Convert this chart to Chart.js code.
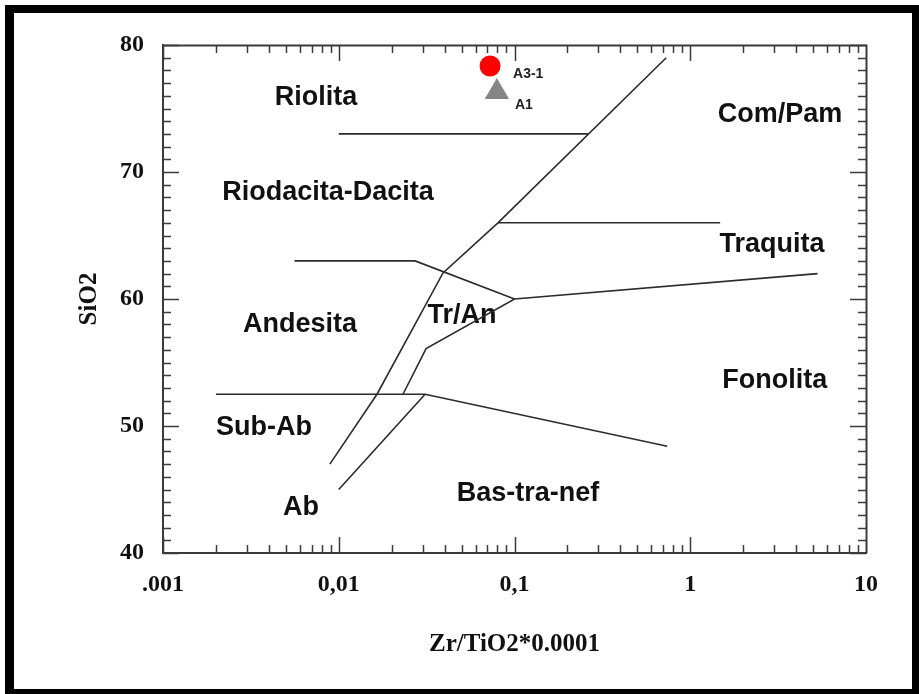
<!DOCTYPE html>
<html><head><meta charset="utf-8">
<script src="https://cdn.jsdelivr.net/npm/chart.js@4/dist/chart.umd.min.js"></script>
<style>
html,body{margin:0;padding:0;background:#fff;}
#wrap{position:relative;width:919px;height:694px;overflow:hidden;}
#frame{position:absolute;left:5px;top:5px;width:914px;height:689px;box-sizing:border-box;border-left:9px solid #000;border-top:8px solid #000;border-right:7px solid #000;border-bottom:5px solid #000;pointer-events:none;}
canvas{position:absolute;left:0;top:0;}
</style></head>
<body><div id="wrap"><canvas id="c" width="919" height="694"></canvas><div id="frame"></div></div>
<script>
// ---- data ----
const sampleNames = ['A3-1', 'A1'];
const sampleZrTi = [0.0726, 0.0794];
const sampleSiO2 = [78.35, 76.3];

const xTickValues = [0.001, 0.01, 0.1, 1, 10];
const xTickLabels = ['.001', '0,01', '0,1', '1', '10'];
const yTickValues = [40, 50, 60, 70, 80];

// field boundaries (Zr/TiO2*0.0001, SiO2)
const lineRiolita   = [{x:0.01,y:73},{x:0.262,y:73}];
const lineDiagonal  = [{x:0.73,y:79},{x:0.0805,y:66},{x:0.0392,y:62.05},{x:0.0165,y:52.5},{x:0.0089,y:47}];
const lineTraquita  = [{x:0.0805,y:66},{x:1.48,y:66}];
const lineAndesita  = [{x:0.0056,y:63},{x:0.0272,y:63},{x:0.1,y:60}];
const lineTrAn      = [{x:0.0232,y:52.5},{x:0.0314,y:56.1},{x:0.1,y:60},{x:5.3,y:62}];
const lineSubAb     = [{x:0.002,y:52.5},{x:0.031,y:52.5},{x:0.74,y:48.4}];
const lineAb        = [{x:0.031,y:52.5},{x:0.01,y:45}];

const regionNames = ['Riolita','Riodacita-Dacita','Com/Pam','Traquita','Andesita','Tr/An','Fonolita','Sub-Ab','Ab','Bas-tra-nef'];
const regionX = [0.00743,0.00869,3.24,2.92,0.00602,0.0502,3.03,0.00376,0.0061,0.1194];
const regionY = [75.9,68.35,74.5,64.3,57.95,58.66,53.54,49.84,43.54,44.72];

// ---- chart ----
const boundaryLines = [lineRiolita,lineDiagonal,lineTraquita,lineAndesita,lineTrAn,lineSubAb,lineAb];
const datasets = boundaryLines.map(pts => ({
  type:'scatter', data:pts, showLine:true, borderColor:'#2b2b2b', borderWidth:1.6,
  pointRadius:0, fill:false, tension:0
}));
datasets.push({
  type:'scatter', label:sampleNames[0], data:[{x:sampleZrTi[0],y:sampleSiO2[0]}],
  pointStyle:'circle', pointRadius:10.5, backgroundColor:'#ff0000', borderColor:'#ff0000', borderWidth:0
});
datasets.push({
  type:'scatter', label:sampleNames[1], data:[{x:sampleZrTi[1],y:sampleSiO2[1]}],
  pointStyle:'triangle', pointRadius:14, backgroundColor:'#858585', borderColor:'#858585', borderWidth:0
});

const labelOffsets = [[23,8],[18,13]];

const decor = {
  id:'decor',
  beforeDatasetsDraw(chart){
    const {ctx, scales:{x,y}} = chart;
    ctx.save();
    ctx.fillStyle = '#111';
    ctx.font = 'bold 27px "Liberation Sans", Arial, sans-serif';
    ctx.textAlign = 'center'; ctx.textBaseline = 'middle';
    regionNames.forEach((n,i)=>{
      ctx.fillText(n, x.getPixelForValue(regionX[i]), y.getPixelForValue(regionY[i]));
    });
    ctx.restore();
  },
  afterDraw(chart){
    const {ctx, chartArea:a, scales:{x,y}} = chart;
    ctx.save();
    ctx.strokeStyle = '#3a3a3a';
    ctx.lineWidth = 2;
    ctx.beginPath();
    ctx.moveTo(a.left, a.top+0.5); ctx.lineTo(a.right+0.5, a.top+0.5); ctx.lineTo(a.right+0.5, a.bottom);
    ctx.stroke();
    ctx.lineWidth = 1.5;
    ctx.beginPath();
    for (let v = y.min; v <= y.max; v++) {
      const py = Math.round(y.getPixelForValue(v)) + 0.5;
      const len = (v % 10 === 0) ? 16 : 8;
      ctx.moveTo(a.left, py); ctx.lineTo(a.left+len, py);
      ctx.moveTo(a.right, py); ctx.lineTo(a.right-len, py);
    }
    for (let d = -3; d <= 0; d++) {
      for (let m = 1; m <= 9; m++) {
        const v = m*Math.pow(10,d);
        const px = Math.round(x.getPixelForValue(v)) + 0.5;
        const len = (m === 1) ? 16 : 8;
        ctx.moveTo(px, a.bottom); ctx.lineTo(px, a.bottom-len);
        ctx.moveTo(px, a.top); ctx.lineTo(px, a.top+len);
      }
    }
    ctx.stroke();
    // sample labels
    ctx.fillStyle = '#222';
    ctx.font = 'bold 14px "Liberation Sans", Arial, sans-serif';
    ctx.textAlign = 'left'; ctx.textBaseline = 'middle';
    sampleNames.forEach((n,i)=>{
      ctx.fillText(n, x.getPixelForValue(sampleZrTi[i]) + labelOffsets[i][0], y.getPixelForValue(sampleSiO2[i]) + labelOffsets[i][1]);
    });
    ctx.restore();
  }
};

const serif = '"Liberation Serif", "Times New Roman", serif';

new Chart(document.getElementById('c'), {
  type:'scatter',
  data:{datasets},
  options:{
    responsive:false, animation:false, devicePixelRatio:1,
    layout:{padding:{left:0, top:45, right:53, bottom:0}},
    plugins:{legend:{display:false}, tooltip:{enabled:false}},
    scales:{
      x:{
        type:'logarithmic', min:0.001, max:10,
        afterBuildTicks(s){ s.ticks = xTickValues.map(v=>({value:v})); },
        afterFit(s){ s.height = 141; },
        ticks:{ autoSkip:false, maxRotation:0, padding:17, color:'#111',
          font:{family:serif, size:24, weight:'bold'},
          callback:(v,i)=>xTickLabels[i] },
        grid:{drawOnChartArea:false, drawTicks:false},
        border:{display:true, color:'#3a3a3a', width:2},
        title:{display:true, text:'Zr/TiO2*0.0001', color:'#111',
          font:{family:serif, size:25, weight:'bold'}, padding:{top:0, bottom:34}}
      },
      y:{
        type:'linear', min:40, max:80,
        afterBuildTicks(s){ s.ticks = yTickValues.map(v=>({value:v})); },
        afterFit(s){ s.width = 163; },
        ticks:{ padding:19, color:'#111', font:{family:serif, size:24, weight:'bold'} },
        grid:{drawOnChartArea:false, drawTicks:false},
        border:{display:true, color:'#3a3a3a', width:2},
        title:{display:true, text:'SiO2', color:'#111',
          font:{family:serif, size:25, weight:'bold'}, padding:{top:75, bottom:0}}
      }
    }
  },
  plugins:[decor]
});
</script>
</body></html>
